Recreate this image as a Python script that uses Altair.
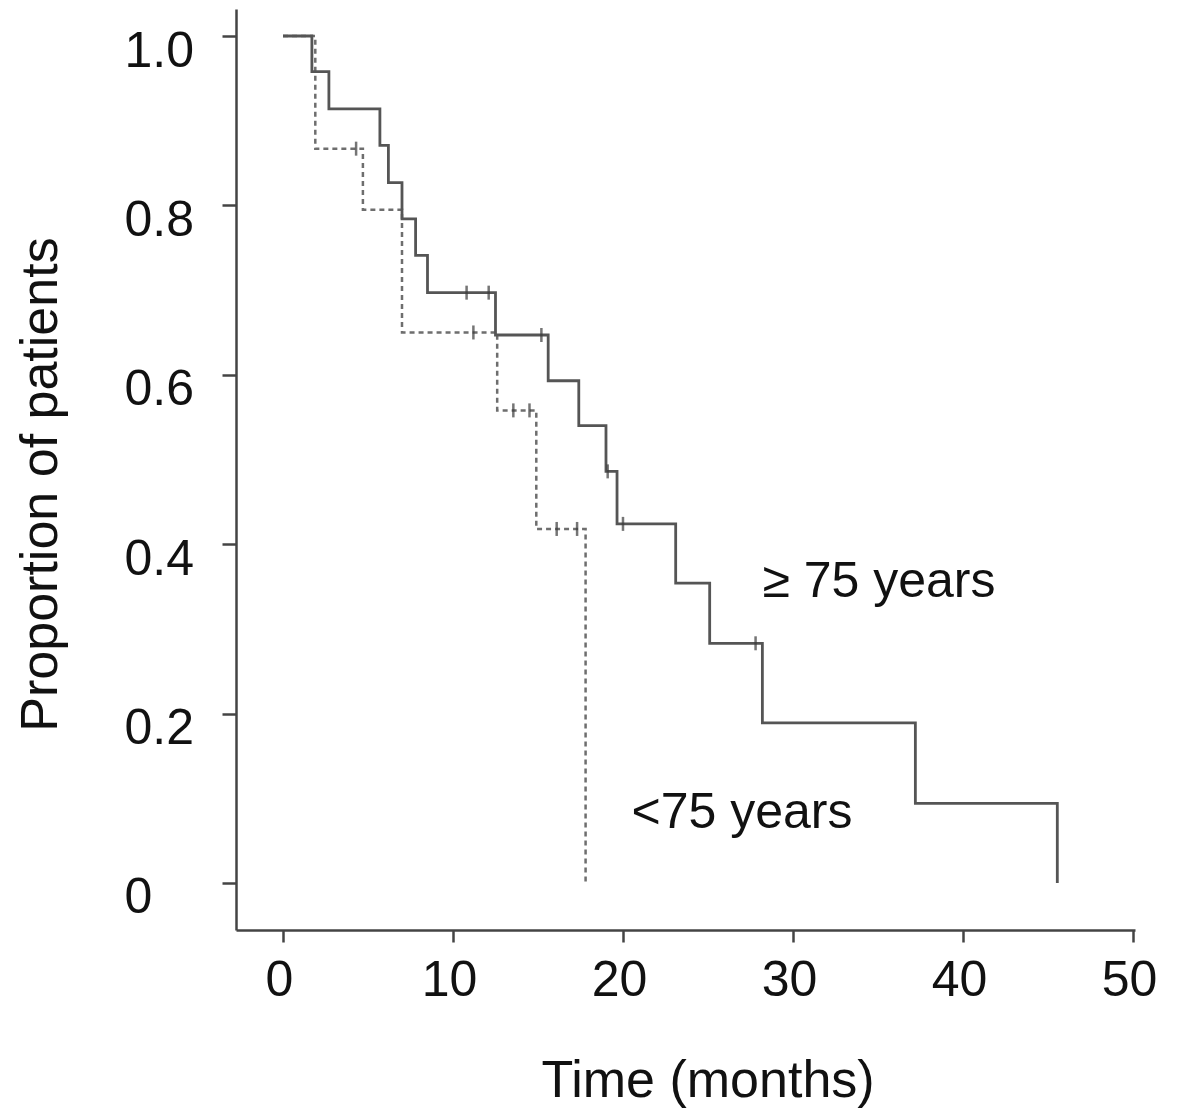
import altair as alt
import pandas as pd

# Kaplan-Meier step data
old_t = [0, 1.7, 2.7, 5.7, 6.2, 7.0, 7.8, 8.5, 12.5, 15.6, 17.4, 19.0, 19.65, 23.1, 25.1, 28.2, 37.2, 45.55]
old_s = [1.0, 0.958, 0.914, 0.871, 0.827, 0.784, 0.741, 0.697, 0.647, 0.593, 0.540, 0.486, 0.424, 0.354, 0.283, 0.189, 0.094, 0.0]
young_t = [0, 1.9, 4.7, 7.0, 12.6, 14.9, 17.8]
young_s = [1.0, 0.867, 0.795, 0.650, 0.558, 0.418, 0.0]

# censored observations
old_cens_t = [10.8, 12.1, 15.2, 19.1, 20.0, 27.8]
old_cens_s = [0.697, 0.697, 0.647, 0.486, 0.424, 0.283]
young_cens_t = [4.3, 11.2, 13.55, 14.5, 16.1, 17.3]
young_cens_s = [0.867, 0.650, 0.558, 0.558, 0.418, 0.418]

# curve labels
label_text = ["\u2265 75 years", "<75 years"]
label_x = [28.2, 20.5]
label_y = [0.338, 0.065]

x_ticks = [0, 10, 20, 30, 40, 50]
y_ticks = [0, 0.2, 0.4, 0.6, 0.8, 1.0]

FONT = "Liberation Sans"

old_df = pd.DataFrame({"t": old_t, "s": old_s})
young_df = pd.DataFrame({"t": young_t, "s": young_s})
old_c = pd.DataFrame({"t": old_cens_t, "s": old_cens_s})
young_c = pd.DataFrame({"t": young_cens_t, "s": young_cens_s})
lab_df = pd.DataFrame({"t": label_x, "s": label_y, "txt": label_text})

xs = alt.Scale(domain=[-2.765, 50.12], nice=False, zero=False)
ys = alt.Scale(domain=[-0.0555, 1.0319], nice=False, zero=False)

x_axis = alt.Axis(
    values=x_ticks, tickSize=12, labelPadding=53, labelBaseline="alphabetic",
    labelFontSize=50, labelOffset=-4, title="Time (months)", titleFontSize=52,
    titleX=471.5, titleY=166, titleBaseline="alphabetic", titleAlign="center",
    labelFlush=False, labelOverlap=False, grid=False,
)
y_axis = alt.Axis(
    values=y_ticks, tickSize=14, labelAlign="left", labelPadding=98,
    labelBaseline="alphabetic", labelOffset=30, labelFontSize=50,
    labelExpr="datum.value == 0 ? '0' : format(datum.value, '.1f')",
    title="Proportion of patients", titleFontSize=52, titleAngle=270,
    titleX=-180, titleY=475, titleBaseline="alphabetic", titleAlign="center",
    labelFlush=False, labelOverlap=False, grid=False,
)

young_line = alt.Chart(young_df).mark_line(
    interpolate="step-after", color="#6e6e6e", strokeWidth=2.5, strokeDash=[5, 4]
).encode(
    x=alt.X("t:Q", scale=xs, axis=x_axis),
    y=alt.Y("s:Q", scale=ys, axis=y_axis),
)

old_line = alt.Chart(old_df).mark_line(
    interpolate="step-after", color="#555555", strokeWidth=2.8
).encode(
    x=alt.X("t:Q", scale=xs),
    y=alt.Y("s:Q", scale=ys),
)

young_ticks = alt.Chart(young_c).mark_tick(
    orient="vertical", size=14, thickness=2.5, color="#3a3a3a"
).encode(x=alt.X("t:Q", scale=xs), y=alt.Y("s:Q", scale=ys))

old_ticks = alt.Chart(old_c).mark_tick(
    orient="vertical", size=14, thickness=2.5, color="#3a3a3a"
).encode(x=alt.X("t:Q", scale=xs), y=alt.Y("s:Q", scale=ys))

labels = alt.Chart(lab_df).mark_text(
    align="left", baseline="alphabetic", font=FONT, fontSize=50, color="#111111"
).encode(x=alt.X("t:Q", scale=xs), y=alt.Y("s:Q", scale=ys), text="txt:N")

chart = alt.layer(young_line, old_line, young_ticks, old_ticks, labels).properties(
    width=899, height=921,
    autosize=alt.AutoSizeParams(type="none"),
    padding={"left": 228, "top": 1, "right": 30, "bottom": 180},
).configure_view(stroke=None).configure_axis(
    domainColor="#444444", domainWidth=2.5, tickColor="#444444", tickWidth=2.5,
    labelColor="#111111", titleColor="#111111", labelFont=FONT, titleFont=FONT,
    titleFontWeight="normal",
)

chart.save("out.html", embed_options={"renderer": "svg", "actions": False})
